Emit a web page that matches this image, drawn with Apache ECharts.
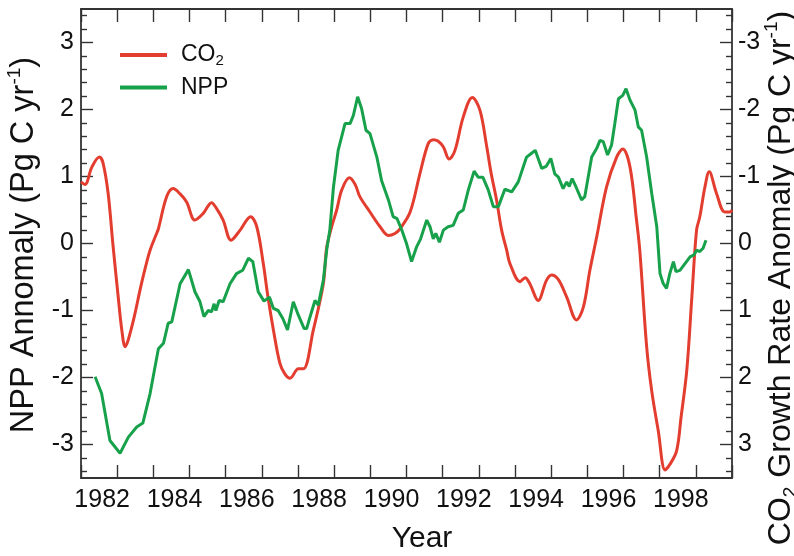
<!DOCTYPE html>
<html>
<head>
<meta charset="utf-8">
<script src="https://cdn.jsdelivr.net/npm/echarts@6/dist/echarts.min.js"></script>
<style>html,body{margin:0;padding:0;background:#fff;}#c{width:794px;height:556px;}</style>
</head>
<body>
<div id="c"></div>
<script>
// ---- data ----
const co2Years = [1981.00,1981.11,1981.30,1981.51,1981.61,1981.75,1981.88,1982.02,1982.13,1982.22,1982.30,1982.47,1982.63,1982.77,1982.91,1983.09,1983.14,1983.37,1983.55,1983.74,1983.92,1984.15,1984.38,1984.61,1984.75,1984.93,1985.15,1985.40,1985.69,1985.86,1986.04,1986.17,1986.32,1986.50,1986.64,1986.78,1987.01,1987.15,1987.42,1987.70,1987.79,1987.93,1988.07,1988.21,1988.42,1988.58,1988.71,1988.99,1989.27,1989.50,1989.68,1989.82,1990.10,1990.37,1990.60,1990.74,1990.87,1991.02,1991.18,1991.34,1991.57,1991.82,1992.03,1992.22,1992.34,1992.49,1992.63,1992.77,1992.86,1993.14,1993.28,1993.41,1993.64,1993.87,1994.01,1994.20,1994.43,1994.70,1994.89,1995.07,1995.26,1995.53,1995.81,1995.98,1996.18,1996.36,1996.45,1996.64,1996.78,1996.96,1997.15,1997.28,1997.47,1997.59,1997.75,1997.89,1998.02,1998.11,1998.25,1998.37,1998.57,1998.80,1998.94,1999.00];
// CO2 growth rate anomaly (right axis, Pg C / yr)
const co2Values = [-0.92,-0.88,-1.14,-1.29,-1.20,-0.75,0.00,0.75,1.30,1.54,1.45,1.10,0.70,0.38,0.10,-0.15,-0.22,-0.70,-0.82,-0.74,-0.62,-0.35,-0.45,-0.61,-0.52,-0.35,-0.05,-0.20,-0.40,-0.25,0.30,0.80,1.29,1.79,1.95,2.01,1.87,1.87,1.30,0.60,0.07,-0.25,-0.50,-0.80,-0.98,-0.88,-0.70,-0.47,-0.25,-0.12,-0.15,-0.22,-0.47,-1.04,-1.49,-1.55,-1.53,-1.44,-1.26,-1.39,-1.89,-2.18,-1.99,-1.44,-1.05,-0.65,-0.20,0.10,0.30,0.57,0.51,0.60,0.85,0.55,0.47,0.54,0.80,1.14,0.95,0.40,-0.10,-0.84,-1.29,-1.41,-1.14,-0.35,0.10,1.54,2.20,2.79,3.38,3.30,3.09,2.60,1.89,0.80,-0.20,-0.40,-0.84,-1.07,-0.75,-0.47,-0.47,-0.50];

const nppYears = [1981.39,1981.57,1981.80,1982.08,1982.31,1982.54,1982.71,1982.91,1983.14,1983.28,1983.41,1983.51,1983.74,1983.97,1984.15,1984.29,1984.40,1984.52,1984.61,1984.68,1984.73,1984.82,1984.93,1985.12,1985.30,1985.47,1985.63,1985.75,1985.90,1986.06,1986.21,1986.32,1986.45,1986.58,1986.71,1986.87,1987.01,1987.17,1987.24,1987.33,1987.47,1987.56,1987.70,1987.80,1987.88,1987.98,1988.11,1988.30,1988.44,1988.53,1988.65,1988.76,1988.88,1988.99,1989.18,1989.31,1989.50,1989.63,1989.74,1989.87,1990.00,1990.14,1990.28,1990.39,1990.56,1990.65,1990.74,1990.81,1990.91,1991.02,1991.15,1991.29,1991.43,1991.57,1991.71,1991.87,1991.98,1992.11,1992.26,1992.40,1992.54,1992.72,1992.91,1993.09,1993.32,1993.44,1993.56,1993.74,1993.86,1993.99,1994.10,1994.20,1994.33,1994.43,1994.50,1994.58,1994.69,1994.84,1994.93,1995.12,1995.26,1995.35,1995.44,1995.56,1995.67,1995.76,1995.86,1995.98,1996.07,1996.18,1996.32,1996.41,1996.50,1996.64,1996.78,1996.92,1997.01,1997.10,1997.19,1997.28,1997.38,1997.45,1997.56,1997.70,1997.84,1997.95,1998.02,1998.11,1998.20,1998.28];
// NPP anomaly (left axis, Pg C / yr)
const nppValues = [-1.99,-2.24,-2.94,-3.13,-2.89,-2.74,-2.68,-2.24,-1.57,-1.49,-1.19,-1.17,-0.60,-0.39,-0.72,-0.87,-1.09,-1.00,-1.02,-0.90,-1.00,-0.85,-0.87,-0.60,-0.45,-0.40,-0.22,-0.27,-0.72,-0.86,-0.80,-0.97,-1.00,-1.12,-1.29,-0.87,-1.07,-1.27,-1.27,-1.10,-0.85,-0.92,-0.55,-0.07,0.20,0.84,1.39,1.79,1.79,1.91,2.19,2.01,1.69,1.64,1.29,0.94,0.65,0.40,0.37,0.20,0.00,-0.27,-0.05,0.07,0.35,0.25,0.07,0.15,0.02,0.20,0.25,0.27,0.45,0.50,0.80,1.08,0.99,0.99,0.80,0.55,0.55,0.81,0.77,0.92,1.29,1.34,1.39,1.12,1.15,1.27,1.04,0.99,0.82,0.92,0.85,0.97,0.84,0.65,0.70,1.29,1.42,1.54,1.52,1.32,1.47,1.79,2.16,2.21,2.31,2.14,1.99,1.74,1.69,1.29,0.75,0.25,-0.45,-0.60,-0.67,-0.45,-0.27,-0.42,-0.40,-0.30,-0.20,-0.17,-0.10,-0.12,-0.07,0.05];

const yMajorTicks = [-3,-2,-1,0,1,2,3];
const yMinorTicks = [-3.4,-3.2,-2.8,-2.6,-2.4,-2.2,-1.8,-1.6,-1.4,-1.2,-0.8,-0.6,-0.4,-0.2,0.2,0.4,0.6,0.8,1.2,1.4,1.6,1.8,2.2,2.4,2.6,2.8,3.2,3.4];
const yearLabels = [1982,1984,1986,1988,1990,1992,1994,1996,1998];

const seriesNames = ['CO2','NPP'];
const leftTitle = 'NPP Annomaly (Pg C yr{sup|-1})';
const rightTitle = 'CO{sub|2} Growth Rate Anomaly (Pg C yr{sup|-1})';
const xTitle = 'Year';

// ---- chart ----
const RED = '#e33d2f', GREEN = '#17a14b', AX = '#333';
const NARROW = '"Liberation Sans Narrow", "Arial Narrow", "Liberation Sans", sans-serif';
const REG = '"Liberation Sans", Arial, sans-serif';

const zip = (a, b) => a.map((v, i) => [v, b[i]]);

const chart = echarts.init(document.getElementById('c'), null, {renderer: 'canvas'});

const xBase = {
  type: 'value', min: 1981, max: 1999, interval: 1,
  axisLine: {show: true, onZero: false, lineStyle: {color: AX, width: 1.8}},
  axisTick: {show: true, inside: true, length: 13, lineStyle: {color: AX, width: 1.4}},
  splitLine: {show: false}
};
const yBase = {
  type: 'value', min: -3.5, max: 3.5,
  axisLine: {show: true, onZero: false, lineStyle: {color: AX, width: 1.8}},
  splitLine: {show: false}
};

chart.setOption({
  animation: false,
  backgroundColor: '#fff',
  grid: {left: 81, right: 62, top: 9, bottom: 78, containLabel: false},
  legend: {
    data: seriesNames, orient: 'vertical', left: 120, top: 42, padding: 0,
    icon: 'rect', itemWidth: 47, itemHeight: 4, itemGap: 6.4,
    formatter: n => n === 'CO2' ? 'CO{sub|2}' : n,
    textStyle: {
      fontFamily: REG, fontSize: 23, color: '#111', lineHeight: 26, padding: [0, 0, 0, 9],
      rich: {sub: {fontFamily: REG, fontSize: 15, lineHeight: 15, verticalAlign: 'bottom', color: '#111'}}
    }
  },
  xAxis: [
    Object.assign({}, xBase, {
      position: 'bottom',
      axisLabel: {
        show: true, margin: 10, color: '#111', fontFamily: NARROW, fontSize: 25,
        padding: [0, 30, 0, 0],
        formatter: v => yearLabels.indexOf(v) >= 0 ? String(v) : ''
      }
    }),
    Object.assign({}, xBase, {position: 'top', axisLabel: {show: false}})
  ],
  yAxis: [
    Object.assign({}, yBase, {
      position: 'left',
      axisTick: {show: true, inside: true, length: 12, customValues: yMajorTicks, lineStyle: {color: AX, width: 1.4}},
      axisLabel: {show: true, customValues: yMajorTicks, margin: 7, color: '#111', fontFamily: NARROW, fontSize: 25}
    }),
    Object.assign({}, yBase, {
      position: 'right', inverse: true,
      axisTick: {show: true, inside: true, length: 12, customValues: yMajorTicks, lineStyle: {color: AX, width: 1.4}},
      axisLabel: {show: true, customValues: yMajorTicks, margin: 6, color: '#111', fontFamily: NARROW, fontSize: 25}
    }),
    Object.assign({}, yBase, {
      position: 'left', axisLine: {show: false},
      axisTick: {show: true, inside: true, length: 6, customValues: yMinorTicks, lineStyle: {color: AX, width: 1.4}},
      axisLabel: {show: false}
    }),
    Object.assign({}, yBase, {
      position: 'right', axisLine: {show: false},
      axisTick: {show: true, inside: true, length: 6, customValues: yMinorTicks, lineStyle: {color: AX, width: 1.4}},
      axisLabel: {show: false}
    })
  ],
  series: [
    {
      name: 'CO2', type: 'line', xAxisIndex: 0, yAxisIndex: 1,
      data: zip(co2Years, co2Values), showSymbol: false, smooth: 0.35,
      lineStyle: {color: RED, width: 3}, itemStyle: {color: RED}, z: 2
    },
    {
      name: 'NPP', type: 'line', xAxisIndex: 0, yAxisIndex: 0,
      data: zip(nppYears, nppValues), showSymbol: false, smooth: false,
      lineStyle: {color: GREEN, width: 3}, itemStyle: {color: GREEN}, z: 3
    }
  ],
  graphic: [
    {
      type: 'text', x: 24, y: 245, rotation: Math.PI / 2,
      style: {
        text: leftTitle, fontFamily: REG, fontSize: 32.5, fill: '#111', lineHeight: 38,
        align: 'center', verticalAlign: 'middle',
        rich: {sup: {fontFamily: REG, fontSize: 19, lineHeight: 19, verticalAlign: 'top', fill: '#111'}}
      }
    },
    {
      type: 'text', x: 781, y: 278, rotation: Math.PI / 2,
      style: {
        text: rightTitle, fontFamily: REG, fontSize: 32, fill: '#111', lineHeight: 38,
        align: 'center', verticalAlign: 'middle',
        rich: {
          sup: {fontFamily: REG, fontSize: 19, lineHeight: 19, verticalAlign: 'top', fill: '#111'},
          sub: {fontFamily: REG, fontSize: 19, lineHeight: 19, verticalAlign: 'bottom', fill: '#111'}
        }
      }
    },
    {
      type: 'text', x: 422, y: 539,
      style: {text: xTitle, fontFamily: NARROW, fontSize: 30, fill: '#111', align: 'center', verticalAlign: 'middle'}
    }
  ]
});
</script>
</body>
</html>
